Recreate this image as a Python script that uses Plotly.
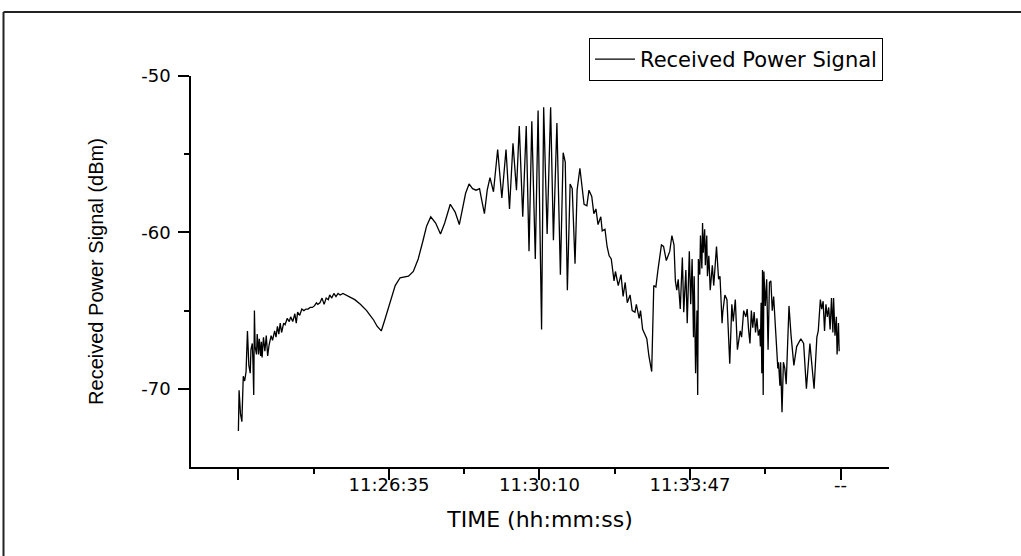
import plotly.graph_objects as go

# ---- data ----
time_s = [0, 1, 3, 5, 7, 9, 11, 13, 15, 17, 18, 20, 21, 22, 23, 24, 26, 27, 29, 30,
          32, 33, 34, 36, 38, 40, 42, 44, 47, 49, 52, 54, 56, 58, 60, 62, 65, 67, 70, 73,
          75, 78, 81, 83, 85, 88, 91, 94, 97, 100, 103, 106, 109, 112, 114, 117, 120, 123, 126, 129,
          131, 134, 137, 140, 143, 146, 150, 154, 160, 167, 175, 184, 189, 194, 199, 205, 210, 217, 225, 232,
          244, 251, 258, 265, 270, 276, 283, 290, 296, 304, 311, 317, 322, 326, 331, 336, 341, 346, 349, 353,
          357, 361, 366, 372, 378, 384, 389, 394, 399, 403, 408, 413, 417, 421, 426, 430, 435, 438, 443, 448,
          452, 457, 462, 466, 469, 472, 476, 479, 483, 486, 490, 493, 496, 500, 503, 507, 510, 513, 516, 520,
          522, 526, 529, 532, 535, 539, 541, 545, 549, 552, 555, 558, 562, 565, 569, 571, 575, 577, 580, 583,
          586, 589, 593, 596, 599, 602, 607, 610, 614, 619, 622, 625, 627, 629, 631, 634, 637, 639, 642, 644,
          647, 649, 651, 653, 654, 656, 658, 659, 660, 662, 663, 665, 666, 667, 669, 670, 672, 673, 675, 677,
          680, 682, 686, 689, 691, 694, 695, 698, 701, 705, 708, 710, 713, 716, 720, 722, 725, 728, 730, 732,
          734, 736, 738, 740, 742, 744, 746, 748, 749, 750, 751, 752, 753, 754, 756, 758, 760, 762, 764, 766,
          768, 771, 774, 775, 777, 778, 780, 782, 784, 786, 788, 790, 793, 797, 801, 807, 811, 815, 820, 826,
          830, 832, 835, 837, 839, 841, 843, 845, 847, 849, 851, 853, 854, 856, 858, 859, 861, 862]

rx_dbm = [-72.7, -70.1, -71.6, -72.1, -69.2, -69.5, -68.9, -66.3, -68.5, -69.0, -67.5, -67.1, -68.4, -70.4, -65.0, -67.3, -67.8, -66.5, -67.8, -66.8,
          -67.9, -67.0, -68.0, -66.7, -67.6, -66.6, -67.9, -67.2, -66.6, -66.9, -66.3, -66.7, -66.0, -66.5, -65.8, -66.4, -65.8, -65.9, -65.5, -65.7,
          -65.4, -65.7, -65.2, -65.8, -65.1, -65.3, -64.9, -65.0, -64.9, -64.9, -64.8, -64.8, -64.7, -64.5, -64.6, -64.5, -64.2, -64.6, -64.2, -64.3,
          -64.0, -64.2, -63.9, -64.1, -63.9, -64.0, -63.9, -64.0, -64.1, -64.3, -64.6, -65.0, -65.3, -65.6, -66.0, -66.3, -65.6, -64.5, -63.4, -62.9,
          -62.8, -62.5, -61.7, -60.5, -59.6, -59.0, -59.4, -60.1, -59.4, -58.2, -58.7, -59.5, -58.5, -57.5, -56.9, -57.2, -57.3, -57.2, -57.9, -58.8,
          -57.3, -56.5, -57.4, -54.7, -57.8, -54.7, -58.5, -54.3, -57.3, -53.2, -59.0, -53.2, -61.2, -52.9, -61.7, -52.2, -66.2, -52.0, -60.1, -52.0,
          -60.5, -53.0, -62.7, -54.9, -55.5, -63.7, -56.9, -57.2, -62.0, -57.3, -55.9, -57.1, -58.2, -58.3, -57.3, -57.7, -58.8, -58.5, -59.5, -59.0,
          -59.9, -59.8, -60.9, -61.5, -61.7, -63.1, -62.5, -63.4, -62.7, -64.1, -63.2, -64.5, -64.0, -65.0, -65.1, -64.6, -65.5, -65.0, -66.2, -66.5,
          -66.8, -67.9, -68.9, -63.4, -63.5, -62.4, -60.8, -60.9, -61.8, -61.2, -60.2, -60.8, -63.1, -63.7, -63.0, -64.9, -61.6, -65.1, -62.4, -65.8,
          -61.2, -64.6, -61.7, -66.7, -62.8, -69.0, -65.0, -70.4, -61.7, -62.7, -60.2, -62.3, -59.4, -61.3, -59.8, -62.1, -60.2, -62.8, -61.5, -63.7,
          -62.1, -63.4, -60.9, -63.0, -62.8, -65.8, -65.1, -64.0, -64.3, -68.4, -64.6, -65.7, -64.3, -67.5, -66.3, -66.7, -65.0, -65.4, -64.9, -66.2,
          -67.1, -65.0, -66.1, -65.1, -66.4, -65.5, -66.6, -66.2, -67.3, -64.5, -69.0, -62.4, -70.4, -62.5, -64.7, -63.0, -67.5, -63.2, -63.1, -65.0,
          -64.1, -66.4, -68.7, -68.3, -69.8, -68.3, -71.5, -68.3, -68.7, -69.7, -67.0, -64.7, -66.6, -68.5, -67.3, -66.8, -67.1, -70.0, -67.1, -70.0,
          -66.7, -66.3, -64.3, -64.9, -64.4, -66.3, -64.6, -65.4, -64.8, -66.2, -64.2, -66.4, -64.2, -66.6, -65.4, -67.8, -65.8, -67.6]

x_tick_vals = [0, 216, 432, 648, 864]
x_tick_text = ["", "11:26:35", "11:30:10", "11:33:47", "--"]
x_minor_vals = [108, 324, 540, 756]
y_tick_vals = [-70, -60, -50]
y_tick_text = ["-70", "-60", "-50"]
y_minor_vals = [-65, -55]

series_name = "Received Power Signal"
x_title = "TIME (hh:mm:ss)"
y_title = "Received Power Signal (dBm)"

# ---- layout geometry (pixels) ----
W, H = 1021, 556
L, R, T, B = 191, 132, 76, 89
pw, ph = W - L - R, H - T - B


def px_x(px):
    return (px - L) / pw


def px_y(py):
    return (H - B - py) / ph


fig = go.Figure()
fig.add_trace(go.Scatter(
    x=time_s, y=rx_dbm, mode="lines", name=series_name,
    line=dict(color="black", width=1.3),
))

tick_font = dict(family="DejaVu Sans", size=18, color="black")
title_font = dict(family="DejaVu Sans", size=22, color="black")

fig.update_layout(
    width=W, height=H,
    margin=dict(l=L, r=R, t=T, b=B, autoexpand=False),
    paper_bgcolor="white", plot_bgcolor="white",
    showlegend=True,
    legend=dict(
        x=px_x(883), y=px_y(38), xanchor="right", yanchor="top",
        bgcolor="white", bordercolor="black", borderwidth=1,
        font=dict(family="DejaVu Sans", size=21, color="black"),
        itemwidth=40,
    ),
    xaxis=dict(
        range=[-68, 933.5], showgrid=False, zeroline=False,
        showline=True, linecolor="black", linewidth=1.5,
        ticks="outside", ticklen=11, tickwidth=1.5, tickcolor="black",
        tickmode="array", tickvals=x_tick_vals, ticktext=x_tick_text,
        tickfont=tick_font, ticklabelstandoff=-10,
        minor=dict(tickvals=x_minor_vals, ticks="outside", ticklen=5,
                   tickwidth=1.5, tickcolor="black", showgrid=False),
        title=dict(text=x_title, font=title_font, standoff=17),
    ),
    yaxis=dict(
        range=[-75, -50], showgrid=False, zeroline=False,
        showline=True, linecolor="black", linewidth=1.5,
        ticks="outside", ticklen=11, tickwidth=1.5, tickcolor="black",
        tickmode="array", tickvals=y_tick_vals, ticktext=y_tick_text,
        tickfont=tick_font, ticklabelstandoff=4,
        minor=dict(tickvals=y_minor_vals, ticks="outside", ticklen=5,
                   tickwidth=1.5, tickcolor="black", showgrid=False),
        title=dict(text=y_title, font=dict(family="Liberation Sans", size=20, color="black"),
                   standoff=32),
    ),
)

# outer frame (top and left edges, as in the picture)
fig.add_shape(type="line", xref="paper", yref="paper",
              x0=px_x(3.5), x1=px_x(W + 5), y0=px_y(12), y1=px_y(12),
              line=dict(color="#222222", width=2))
fig.add_shape(type="line", xref="paper", yref="paper",
              x0=px_x(3.5), x1=px_x(3.5), y0=px_y(12), y1=px_y(H + 5),
              line=dict(color="#222222", width=2))

fig.write_html("out.html")
